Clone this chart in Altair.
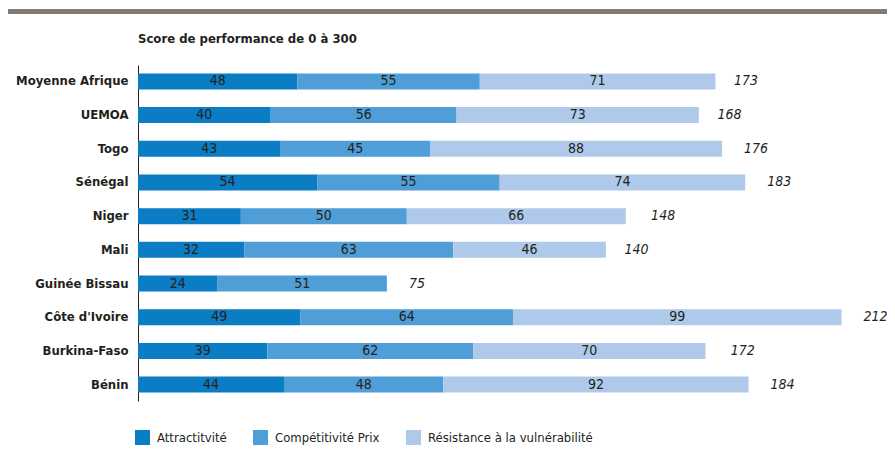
import altair as alt
import pandas as pd

categories = ["Moyenne Afrique", "UEMOA", "Togo", "Sénégal", "Niger", "Mali",
              "Guinée Bissau", "Côte d'Ivoire", "Burkina-Faso", "Bénin"]
attractivite = [48, 40, 43, 54, 31, 32, 24, 49, 39, 44]
competitivite = [55, 56, 45, 55, 50, 63, 51, 64, 62, 48]
resistance = [71, 73, 88, 74, 66, 46, None, 99, 70, 92]
totals = [173, 168, 176, 183, 148, 140, 75, 212, 172, 184]
series = ["Attractitvité", "Compétitivité Prix", "Résistance à la vulnérabilité"]
colors = ["#0a7dc4", "#4f9ed8", "#aec9e9"]

rows = []
for i, c in enumerate(categories):
    for k, (s, vals) in enumerate(zip(series, [attractivite, competitivite, resistance])):
        v = vals[i]
        if v is None:
            continue
        rows.append({"pays": c, "serie": s, "ordre": k, "valeur": v})
df = pd.DataFrame(rows)
tot = pd.DataFrame({"pays": categories, "total": totals})

FONT = "DejaVu Sans Condensed, sans-serif"
TXT = "#231f20"

xs = alt.Scale(domain=[0, 223], nice=False, zero=True)
ys = alt.Scale(domain=categories, paddingInner=0.525, paddingOuter=0.25)

base = alt.Chart(df).transform_stack(
    stack="valeur", groupby=["pays"], as_=["x0", "x1"], sort=[alt.SortField("ordre")]
)

bars = base.mark_bar().encode(
    y=alt.Y("pays:N", scale=ys, sort=categories,
            axis=alt.Axis(title=None, ticks=False, labelFontWeight="bold", labelFontSize=13,
                          labelPadding=10, labelColor=TXT, domainColor=TXT, labelFont=FONT,
                          domainWidth=1)),
    x=alt.X("x0:Q", scale=xs, axis=None),
    x2="x1:Q",
    color=alt.Color("serie:N", scale=alt.Scale(domain=series, range=colors),
                    legend=alt.Legend(title=None, orient="none", legendX=-3, legendY=365,
                                      direction="horizontal", symbolType="square",
                                      symbolSize=225, symbolStrokeWidth=0,
                                      labelFontSize=13, labelFont=FONT, labelColor=TXT,
                                      labelOffset=7, columnPadding=26, labelLimit=400)),
)

labels = base.transform_calculate(mid="(datum.x0 + datum.x1) / 2").mark_text(
    fontSize=14, font=FONT, color=TXT
).encode(
    x=alt.X("mid:Q", scale=xs),
    y=alt.Y("pays:N", scale=ys, sort=categories),
    text="valeur:Q",
)

tot_text = alt.Chart(tot).mark_text(
    align="left", dx=22, fontStyle="italic", fontSize=14, font=FONT, color=TXT
).encode(
    x=alt.X("total:Q", scale=xs),
    y=alt.Y("pays:N", scale=ys, sort=categories),
    text="total:Q",
)

top_rule = alt.Chart(pd.DataFrame({"a": [0]})).mark_rule(
    color="#857a72", strokeWidth=5
).encode(x=alt.value(-130), x2=alt.value(749), y=alt.value(-53.5))

chart = alt.layer(top_rule, bars, labels, tot_text).properties(
    width=740,
    height=336,
    autosize=alt.AutoSizeParams(type="none"),
    padding={"left": 130, "top": 57, "right": 9, "bottom": 54},
    title=alt.TitleParams("Score de performance de 0 à 300", anchor="start", frame="group",
                          fontSize=13, font=FONT, fontWeight="bold", color=TXT, offset=-37),
    background="white",
).configure_view(stroke=None)

chart.save("out.html", embed_options={"renderer": "svg", "actions": False})
